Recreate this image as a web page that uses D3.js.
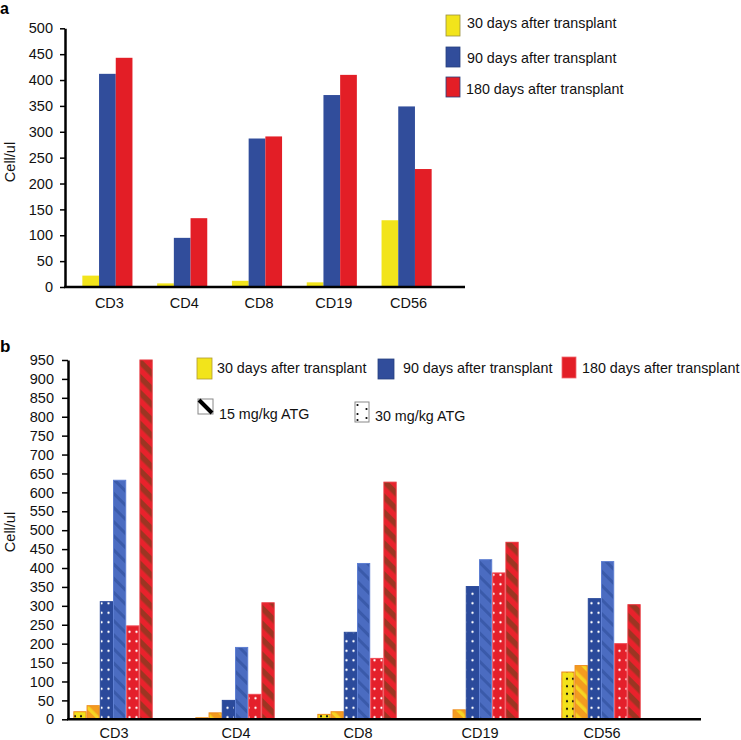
<!DOCTYPE html>
<html><head><meta charset="utf-8">
<script src="https://cdn.jsdelivr.net/npm/d3@7"></script>
<style>
html,body{margin:0;padding:0;background:#fff;}
text{font-family:"Liberation Sans",Arial,Helvetica,sans-serif;}
</style></head>
<body>
<svg id="chart" width="741" height="740"></svg>
<script>
// ---------- DATA ----------
const categories = ["CD3","CD4","CD8","CD19","CD56"];
// Panel a
const seriesA = ["30 days after transplant","90 days after transplant","180 days after transplant"];
const a30  = [22, 7, 12, 9, 129];
const a90  = [412, 95, 287, 371, 349];
const a180 = [443, 133, 291, 410, 228];
const ticksA = [0,50,100,150,200,250,300,350,400,450,500];
// Panel b (30 = 30 mg/kg ATG, 15 = 15 mg/kg ATG)
const b30d30  = [20, 4, 13, 0, 125];
const b30d15  = [36, 17, 20, 25, 142];
const b90d30  = [311, 50, 230, 351, 319];
const b90d15  = [632, 190, 412, 422, 417];
const b180d30 = [247, 66, 161, 387, 200];
const b180d15 = [950, 308, 627, 468, 303];
const ticksB = [0,50,100,150,200,250,300,350,400,450,500,550,600,650,700,750,800,850,900,950];
const legendB = ["30 days after transplant","90 days after transplant","180 days after transplant"];
const legendDose = ["15 mg/kg ATG","30 mg/kg ATG"];

const svg = d3.select("#chart");
const defs = svg.append("defs");

// ---------- PATTERNS ----------
function dots(id, bg, dot, w, h, r){
  const p = defs.append("pattern").attr("id",id).attr("patternUnits","userSpaceOnUse")
    .attr("width",w).attr("height",h);
  p.append("rect").attr("width",w).attr("height",h).attr("fill",bg);
  p.append("circle").attr("cx",w/2).attr("cy",h/2).attr("r",r).attr("fill",dot);
}
function stripes(id, bg, fg, period, sw){
  const p = defs.append("pattern").attr("id",id).attr("patternUnits","userSpaceOnUse")
    .attr("width",period).attr("height",period).attr("patternTransform","rotate(-45)");
  p.append("rect").attr("width",period).attr("height",period).attr("fill",bg);
  p.append("rect").attr("width",sw).attr("height",period).attr("fill",fg);
}
dots("pYel","#f3e21c","#111",6,7.5,1.1);
stripes("pOra","#f39c1f","#f6d423",10,3.5);
dots("pBluD","#2b4a9b","#fff",7,9.5,1.2);
stripes("pBluH","#4b6cc1","#3a5aaa",10,3);
dots("pRedD","#e4202b","#fff",7,9.5,1.2);
stripes("pRedH","#9c3522","#e8222c",11,5.5);

// ---------- PANEL A ----------
const yA = d3.scaleLinear().domain([0,500]).range([287,28.3]);
const xA = d3.scaleBand().domain(categories).range([70,444]).paddingInner(0.33).paddingOuter(0.165);
const xA1 = d3.scaleBand().domain(seriesA).range([0,xA.bandwidth()]);
const colA = ["#f2e41b","#314d9b","#e31e26"];
const valsA = [a30,a90,a180];

const gA = svg.append("g");
seriesA.forEach((s,si)=>{
  gA.selectAll(null).data(categories).enter().append("rect")
    .attr("x",c=>xA(c)+xA1(s))
    .attr("y",(c,i)=>yA(valsA[si][i]))
    .attr("width",xA1.bandwidth())
    .attr("height",(c,i)=>yA(0)-yA(valsA[si][i]))
    .attr("fill",colA[si]);
});
const axA = gA.append("g").attr("transform","translate(65,0)")
  .call(d3.axisLeft(yA).tickValues(ticksA).tickSize(5).tickSizeOuter(0).tickPadding(7));
axA.select(".domain").attr("stroke-width",2.5);
axA.selectAll(".tick line").attr("stroke-width",1.5);
axA.selectAll(".tick text").attr("font-size",14.5).attr("fill","#111")
  .style("font-family","'Liberation Sans',Arial,sans-serif");
gA.append("line").attr("x1",64).attr("x2",465).attr("y1",yA(0)).attr("y2",yA(0))
  .attr("stroke","#000").attr("stroke-width",2.5);
gA.selectAll(null).data(categories).enter().append("text")
  .attr("x",c=>xA(c)+xA.bandwidth()/2+2).attr("y",308)
  .attr("text-anchor","middle").attr("font-size",14.5).attr("fill","#111").text(c=>c);
gA.append("text").attr("transform","translate(15,162) rotate(-90)")
  .attr("text-anchor","middle").attr("font-size",14.5).attr("fill","#111").text("Cell/ul");
svg.append("text").attr("x",0).attr("y",14).attr("font-size",16).attr("font-weight","bold").text("a");
// legend a
const legA = [[15,21,28],[47,20,63],[77,20,94]];
seriesA.forEach((s,i)=>{
  svg.append("rect").attr("x",446).attr("y",legA[i][0]).attr("width",14).attr("height",legA[i][1])
    .attr("fill",colA[i]).attr("stroke", i===0?"#9a9040":"#26407e").attr("stroke-width",0.8);
  svg.append("text").attr("x",i===2?466:467).attr("y",legA[i][2]).attr("font-size",14.3)
    .attr("fill","#111").text(s);
});

// ---------- PANEL B ----------
const seriesB = ["d30_30","d30_15","d90_30","d90_15","d180_30","d180_15"];
const valsB = [b30d30,b30d15,b90d30,b90d15,b180d30,b180d15];
const fillB = ["url(#pYel)","url(#pOra)","url(#pBluD)","url(#pBluH)","url(#pRedD)","url(#pRedH)"];
const strokeB = ["#ee8a1c","#ee8a1c","#2b4a9b","#5e7fd2","#f04a55","#e8323a"];
const yB = d3.scaleLinear().domain([0,950]).range([719.3,360]);
const xB = d3.scaleBand().domain(categories).range([52,662]).paddingInner(0.35).paddingOuter(0.175);
const xB1 = d3.scaleBand().domain(seriesB).range([0,xB.bandwidth()]);
const gB = svg.append("g");
seriesB.forEach((s,si)=>{
  gB.selectAll(null).data(categories).enter().append("rect")
    .attr("x",c=>xB(c)+xB1(s)+0.5)
    .attr("y",(c,i)=>yB(valsB[si][i]))
    .attr("width",xB1.bandwidth()-1)
    .attr("height",(c,i)=>Math.max(0,yB(0)-yB(valsB[si][i])))
    .attr("fill",fillB[si]).attr("stroke",(c,i)=>valsB[si][i]>0?strokeB[si]:"none").attr("stroke-width",1);
});
const axB = gB.append("g").attr("transform","translate(68,0)")
  .call(d3.axisLeft(yB).tickValues(ticksB).tickSize(6).tickSizeOuter(0).tickPadding(8));
axB.select(".domain").attr("stroke-width",2.5);
axB.selectAll(".tick line").attr("stroke-width",1.5);
axB.selectAll(".tick text").attr("font-size",14.5).attr("fill","#111")
  .style("font-family","'Liberation Sans',Arial,sans-serif");
gB.append("line").attr("x1",67).attr("x2",701).attr("y1",yB(0)).attr("y2",yB(0))
  .attr("stroke","#000").attr("stroke-width",2.5);
gB.selectAll(null).data(categories).enter().append("text")
  .attr("x",c=>xB(c)+xB.bandwidth()/2+1).attr("y",738)
  .attr("text-anchor","middle").attr("font-size",14.5).attr("fill","#111").text(c=>c);
gB.append("text").attr("transform","translate(15,532) rotate(-90)")
  .attr("text-anchor","middle").attr("font-size",14.5).attr("fill","#111").text("Cell/ul");
svg.append("text").attr("x",0).attr("y",352).attr("font-size",17).attr("font-weight","bold").text("b");
// legend b row 1
const legBpos = [[197,358,15,21,217,"#f2e41b","#b09a30"],[378,359,16,20,403,"#314d9b","#26407e"],[562,357,14,21,582,"#e31e26","#f06a70"]];
legendB.forEach((s,i)=>{
  const p = legBpos[i];
  svg.append("rect").attr("x",p[0]).attr("y",p[1]).attr("width",p[2]).attr("height",p[3])
    .attr("fill",p[5]).attr("stroke",p[6]).attr("stroke-width",0.8);
  svg.append("text").attr("x",p[4]).attr("y",373).attr("font-size",14.3).attr("fill","#111").text(s);
});
// legend b row 2
svg.append("rect").attr("x",198).attr("y",399).attr("width",15).attr("height",15)
  .attr("fill","#fff").attr("stroke","#888").attr("stroke-width",1);
svg.append("line").attr("x1",199).attr("y1",400).attr("x2",212).attr("y2",413)
  .attr("stroke","#000").attr("stroke-width",4);
svg.append("text").attr("x",219).attr("y",419).attr("font-size",14.3).attr("fill","#111").text(legendDose[0]);
svg.append("rect").attr("x",355).attr("y",402).attr("width",14).attr("height",20)
  .attr("fill","#fff").attr("stroke","#888").attr("stroke-width",1);
[[357.5,405],[366.5,409],[357.5,414],[366.5,418],[357.5,420]].forEach(d=>{
  svg.append("circle").attr("cx",d[0]).attr("cy",d[1]).attr("r",1.1).attr("fill","#000");
});
svg.append("text").attr("x",375).attr("y",421).attr("font-size",14.3).attr("fill","#111").text(legendDose[1]);
</script>
</body></html>
